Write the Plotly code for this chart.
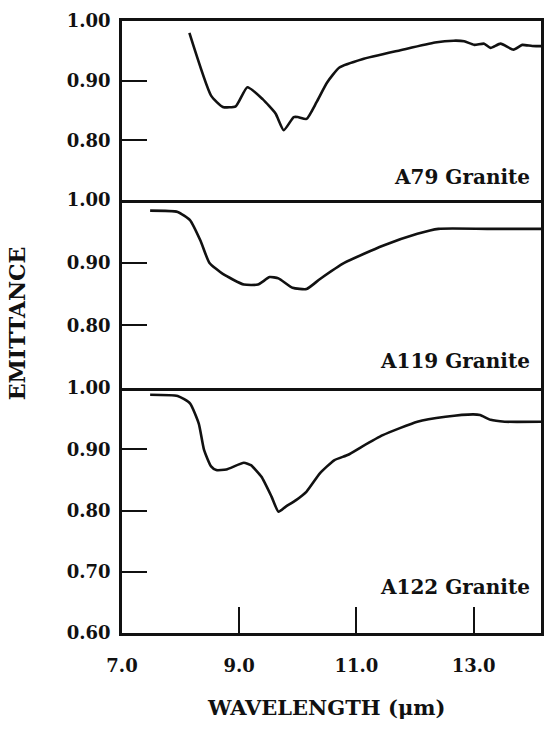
import plotly.graph_objects as go

# A79 Granite (top panel)
a79_x = [8.15, 8.52, 8.72, 8.94, 9.14, 9.40, 9.62, 9.76, 9.93, 10.00, 10.15, 10.32, 10.50,
         10.71, 11.10, 11.75, 12.34, 12.66, 12.84, 13.01, 13.18, 13.29, 13.46, 13.68, 13.83,
         14.00, 14.20]
a79_y = [0.980, 0.875, 0.856, 0.857, 0.889, 0.869, 0.845, 0.817, 0.839, 0.839, 0.836, 0.864,
         0.897, 0.922, 0.936, 0.951, 0.964, 0.967, 0.966, 0.960, 0.962, 0.955, 0.962, 0.952,
         0.960, 0.958, 0.958]

# A119 Granite (middle panel)
a119_x = [7.48, 7.95, 8.16, 8.34, 8.49, 8.72, 9.08, 9.32, 9.52, 9.67, 9.91, 10.15, 10.38,
          10.80, 11.45, 12.04, 12.40, 13.23, 14.20]
a119_y = [0.983, 0.981, 0.968, 0.935, 0.900, 0.882, 0.865, 0.865, 0.877, 0.875, 0.860, 0.858,
          0.874, 0.900, 0.927, 0.946, 0.954, 0.954, 0.954]

# A122 Granite (bottom panel)
a122_x = [7.48, 7.95, 8.16, 8.31, 8.40, 8.52, 8.61, 8.78, 9.08, 9.20, 9.38, 9.55, 9.67, 9.79,
          9.97, 10.15, 10.38, 10.62, 10.86, 11.09, 11.45, 12.04, 12.52, 12.99, 13.11, 13.29,
          13.53, 14.20]
a122_y = [0.989, 0.987, 0.975, 0.942, 0.899, 0.872, 0.866, 0.867, 0.878, 0.874, 0.855, 0.823,
          0.798, 0.806, 0.817, 0.831, 0.861, 0.882, 0.891, 0.904, 0.923, 0.945, 0.953, 0.957,
          0.956, 0.948, 0.945, 0.945]

x_ticks = [7.0, 9.0, 11.0, 13.0]
x_ticktext = ["7.0", "9.0", "11.0", "13.0"]
y_ticks_top = [0.80, 0.90, 1.00]
y_ticktext_top = ["0.80", "0.90", "1.00"]
y_ticks_bottom = [0.60, 0.70, 0.80, 0.90, 1.00]
y_ticktext_bottom = ["0.60", "0.70", "0.80", "0.90", "1.00"]
labels = ["A79 Granite", "A119 Granite", "A122 Granite"]

FONT = "DejaVu Serif"
BLACK = "#111111"

fig = go.Figure()
for xs, ys, xa, ya in [(a79_x, a79_y, "x", "y"), (a119_x, a119_y, "x2", "y2"),
                       (a122_x, a122_y, "x3", "y3")]:
    fig.add_trace(go.Scatter(x=xs, y=ys, mode="lines", xaxis=xa, yaxis=ya,
                             line=dict(color=BLACK, width=2.6, shape="spline", smoothing=0.5),
                             showlegend=False, hoverinfo="skip"))

xr = [7.0, 14.15]
common_x = dict(range=xr, showline=True, linecolor=BLACK, linewidth=2.6,
                showgrid=False, zeroline=False)
tfont = dict(family=FONT, size=18, color=BLACK, weight="bold")
common_y = dict(showline=True, mirror=True, linecolor=BLACK, linewidth=2.6, showgrid=False,
                zeroline=False, ticks="inside", ticklen=25, tickwidth=2.2, tickcolor=BLACK,
                ticklabelstandoff=5, tickfont=tfont)

d3 = [0.0, 0.4003]
d2 = [0.4003, 0.7075]
d1 = [0.7075, 1.0]

fig.update_layout(
    width=549, height=735,
    margin=dict(l=122, r=5, t=21, b=102),
    paper_bgcolor="white", plot_bgcolor="white",
    xaxis=dict(**common_x, mirror=True, anchor="y", showticklabels=False, ticks=""),
    xaxis2=dict(**common_x, mirror=False, anchor="y2", matches="x", showticklabels=False,
                ticks=""),
    xaxis3=dict(**common_x, mirror=False, anchor="y3", matches="x", ticks="inside", ticklen=26,
                tickwidth=2.2, tickcolor=BLACK, tickvals=x_ticks, ticktext=x_ticktext,
                ticklabelstandoff=15, tickfont=tfont),
    yaxis=dict(**common_y, domain=d1, range=[0.70, 1.00], anchor="x",
               tickvals=y_ticks_top, ticktext=y_ticktext_top),
    yaxis2=dict(**common_y, domain=d2, range=[0.70, 1.00], anchor="x2",
                tickvals=y_ticks_top, ticktext=y_ticktext_top),
    yaxis3=dict(**common_y, domain=d3, range=[0.60, 1.00], anchor="x3",
                tickvals=y_ticks_bottom, ticktext=y_ticktext_bottom),
)

lab_font = dict(family=FONT, size=20, color=BLACK, weight="bold")
for text, yp in zip(labels, [0.745, 0.444, 0.075]):
    fig.add_annotation(text=text, xref="paper", yref="paper", x=0.978, y=yp,
                       xanchor="right", yanchor="middle", showarrow=False, font=lab_font)

fig.add_annotation(text="WAVELENGTH (μm)", xref="paper", yref="paper", x=0.488, y=-0.1225,
                   xanchor="center", yanchor="middle", showarrow=False,
                   font=dict(family=FONT, size=21, color=BLACK, weight="bold"))
fig.add_annotation(text="EMITTANCE", xref="paper", yref="paper", x=-0.25, y=0.5065,
                   xanchor="center", yanchor="middle", showarrow=False, textangle=-90,
                   font=dict(family=FONT, size=22, color=BLACK, weight="bold"))

fig.write_html("out.html")
